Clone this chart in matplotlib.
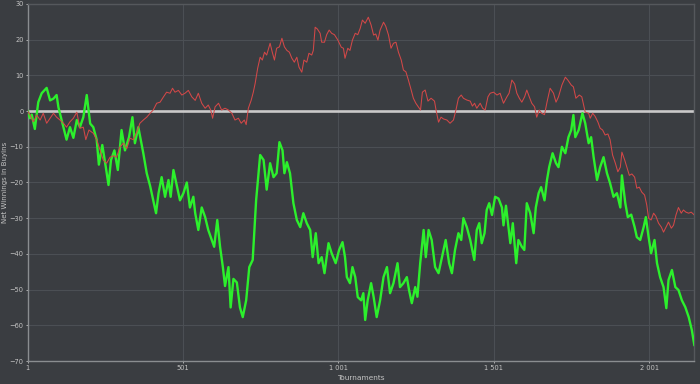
import matplotlib
matplotlib.use("Agg")
import matplotlib.pyplot as plt

# ---------------- data ----------------
green_t = [1, 8, 14, 24, 35, 46, 62, 73, 84, 94, 100, 110, 126, 137, 148, 159, 169, 180, 191, 202,
           212, 223, 230, 241, 252, 261, 269, 280, 291, 303, 314, 327, 338, 346, 357,
           373, 384, 395, 405, 414, 422, 432, 443, 454, 461, 470, 481, 491, 502, 513, 523, 534, 540,
           550, 561, 572, 582, 593, 601, 611, 620, 629, 636, 647, 654, 663, 674, 684, 693, 704, 714,
           725, 736, 749, 760, 770, 781, 792, 802, 811, 821, 827, 835, 845, 856, 867, 878, 888, 899,
           910, 918, 928, 937, 947, 956, 969, 979, 992, 1003, 1014, 1022, 1028, 1038, 1046, 1055,
           1063, 1074, 1081, 1087, 1095, 1106, 1114, 1124, 1135, 1146, 1157, 1167, 1178, 1191, 1199,
           1210, 1221, 1228, 1237, 1248, 1255, 1264, 1275, 1282, 1291, 1301, 1312, 1323, 1334, 1346,
           1357, 1366, 1376, 1387, 1396, 1403, 1414, 1425, 1438, 1446, 1454, 1462, 1471, 1478, 1486,
           1495, 1505, 1516, 1527, 1532, 1540, 1548, 1554, 1562, 1573, 1580, 1591, 1599, 1607, 1618,
           1629, 1636, 1645, 1653, 1664, 1672, 1679, 1690, 1701, 1709, 1720, 1731, 1741, 1750, 1757,
           1763, 1774, 1786, 1795, 1806, 1814, 1822, 1833, 1843, 1854, 1865, 1875, 1886, 1897, 1908,
           1913, 1924, 1932, 1943, 1954, 1961, 1972, 1983, 1990, 1999, 2007, 2018, 2026, 2036, 2047,
           2056, 2063, 2074, 2085, 2095, 2106, 2117, 2128, 2138, 2146]
green_v = [0, -2, -1, -5, 2.5, 5, 6.5, 3, 3.5, 4.5, 1, -2.5, -8, -4.5, -7.5, -2.5, -4.5, -1.7, 4.5, -3.5,
           -4.5, -8, -15, -9.5, -15.5, -20.7, -13.7, -11, -16.5, -5.3, -11, -7.3, -1.7, -9, -4.5,
           -11.8, -17.4, -21, -25, -28.6, -23, -18.5, -24, -19.3, -24, -16.5, -21, -25, -23, -20, -27, -24, -28.6,
           -33.3, -27, -29.7, -33.3, -36, -38, -30.5, -38, -43.7, -49, -43.7, -55, -47, -48, -55, -57.7, -53, -43.7,
           -41.7, -25, -12.3, -13.7, -22, -14.6, -18.5, -17.4, -8.7, -11, -17.4, -14.3, -17.4, -25.8, -30.5, -32.5, -28.6, -31.4,
           -33.3, -40.9, -34.2, -42.6, -40.9, -45.4, -37, -39.8, -42.6, -38.9, -36.7, -40.9, -46.5, -48.2, -43.7, -46.5,
           -52.1, -53, -51, -58.5, -53, -48.2, -52, -57.7, -53, -46.5, -43.7, -51, -48.2, -42.6, -49.3,
           -48.2, -46.5, -50.1, -53.8, -49.3, -52, -42.6, -33.3, -40.9, -33.3, -36.1, -43.7, -45.4, -40.9, -36.1,
           -42.6, -45.4, -38.9, -34.2, -36.1, -30, -32.5, -36.1, -41.7, -33.3, -31.4, -37, -34.2, -27.7, -25.8,
           -29.1, -24, -24.5, -27, -32, -26.5, -32.5, -37, -31.4, -42.6, -36.1, -38, -38.9, -25.8, -28.6,
           -34.2, -27, -23, -21.3, -25, -19.3, -15.7, -11.8, -14.6, -15.7, -10, -11.8, -7.3, -5.3, -1.1,
           -7.3, -5.3, -0.6, -3.4, -9, -7.3, -12.9, -19.3, -15.7, -12.9, -17.4, -20.2, -24, -23, -27,
           -18, -25.8, -29.7, -29, -32.5, -35.3, -36.1, -32.5, -29.7, -35.3, -39.8, -36.1, -42.6, -46.5, -49.3,
           -55.2, -47.3, -44.5, -49.3, -50.1, -53, -54.9, -57.7, -61.3, -65.5]

red_t = [1, 8, 19, 30, 41, 51, 62, 73, 84, 94, 105, 116, 126, 137, 148, 159, 169, 180, 188, 198,
         212, 223, 234, 244, 255, 266, 277, 287, 298, 309, 320, 330, 341, 352, 362,
         373, 384, 395, 405, 416, 427, 438, 448, 459, 467, 475, 486, 497, 507, 518, 529, 540, 550,
         561, 572, 582, 590, 596, 604, 615, 625, 636, 647, 658, 668, 679, 688, 698, 704,
         711, 720, 727, 733, 741, 749, 756, 763, 770, 781, 788, 795, 802, 811, 819, 827, 835, 843,
         851, 859, 867, 874, 883, 890, 899, 906, 915, 920, 926, 933, 942, 947, 956, 963, 971, 979,
         988, 999, 1010, 1017, 1022, 1031, 1038, 1046, 1055, 1063, 1071, 1078, 1087, 1097, 1106,
         1114, 1121, 1128, 1135, 1146, 1153, 1162, 1170, 1178, 1186, 1194, 1203, 1210, 1218, 1226,
         1235, 1242, 1250, 1258, 1265, 1271, 1280, 1289, 1299, 1310, 1315, 1323, 1331, 1339, 1350,
         1360, 1371, 1379, 1387, 1396, 1403, 1414, 1425, 1432, 1439, 1446, 1457, 1465, 1473, 1482,
         1489, 1500, 1511, 1521, 1532, 1543, 1550, 1559, 1568, 1575, 1583, 1591, 1600, 1607, 1615,
         1623, 1632, 1639, 1647, 1655, 1664, 1672, 1682, 1693, 1701, 1709, 1720, 1731, 1739, 1750,
         1757, 1765, 1776, 1784, 1795, 1806, 1811, 1819, 1827, 1836, 1843, 1851, 1859, 1868, 1875,
         1883, 1892, 1900, 1908, 1913, 1922, 1929, 1937, 1945, 1954, 1961, 1969, 1977, 1986, 1993,
         1999, 2007, 2015, 2022, 2031, 2040, 2047, 2055, 2063, 2072, 2079, 2087, 2095, 2104, 2111,
         2119, 2128, 2136, 2146]
red_v = [0, -1, -3, -1.1, -2.5, -0.6, -3.4, -2, -0.6, -1.7, -2.5, -3.4, -4.5, -3, -2, -0.3, -4.8, -4.5, -8, -5.3,
         -6.2, -8, -11, -13.7, -14.6, -12.9, -12.5, -12.9, -10, -9, -10.5, -7.6, -8, -5.9, -3.4,
         -2.5, -1.7, -0.6, 0.3, 2.2, 2.5, 4, 5.3, 5, 6.4, 5.3, 5.8, 4.5, 5, 5.8, 4, 3, 5,
         2.2, 0.8, 1.7, 0.3, -2, 1.2, 2.2, 0.3, 0.8, 0.3, -0.6, -2.5, -2, -3.4, -2.5, -3.8,
         0.8, 3, 5.3, 7.8, 12, 15.1, 14.3, 16.5, 15.7, 19, 16.5, 14.3, 17.6, 18, 20.4, 18, 17, 16.5,
         14.8, 13.7, 15.1, 12.3, 10.9, 14.3, 13.7, 16.2, 15.7, 17, 23.5, 23, 21.8, 19.3, 19.3, 21.4, 22.7, 21.8,
         21.4, 19.9, 17.9, 17.6, 14.8, 17.6, 17, 19.9, 21.8, 21.4, 23.2, 25.5, 24.6, 26.3, 24.1,
         21.3, 21.6, 19.9, 22.7, 24.9, 23.8, 21.3, 17.6, 19, 19.3, 16.5, 14.3, 11.5, 11, 8.7,
         5.9, 3.6, 2.2, 1.2, 0.3, 5.3, 5.9, 2.8, 3.6, 2.8, 0.3, -3.1, -1.7, -2.2, -2.5,
         -3.4, -2.5, 0.3, 3.6, 4.5, 3.6, 3.1, 2.8, 1.4, 2.2, 0.8, 2.2, 0.8, 0.3, 4,
         5, 5.3, 4.5, 5, 2.2, 4, 5, 8.7, 7.6, 5, 3.6, 2.5, 4, 5.9, 4,
         2.2, 1.2, -1.7, 0.3, -0.6, -1, 2.5, 6.4, 5, 2.5, 4, 7.3, 9.5, 8.7, 7.3,
         6.8, 3.6, 4.5, 4, -0.3, -0.6, -2, -0.6, -1.5, -3.1, -4.8, -5.3, -6.7, -6.4, -8,
         -12.3, -14.6, -17, -15.7, -11.5, -13.7, -15.7, -18, -17.6, -18.5, -21.6, -21.3, -22.7, -23.5, -26.3,
         -30, -30.5, -28.6, -29.4, -31.4, -32.5, -33.9, -32.5, -31.1, -32.8, -32, -29.1, -27, -28.6, -27.7,
         -28.3, -28.6, -28.3, -29.1]

x_ticks = [1, 501, 1001, 1501, 2001]
x_tick_labels = ["1", "501", "1 001", "1 501", "2 001"]
y_ticks = [-70, -60, -50, -40, -30, -20, -10, 0, 10, 20, 30]
x_label = "Tournaments"
y_label = "Net Winnings in Buyins"

# ---------------- figure ----------------
BG = "#3a3d41"
fig = plt.figure(figsize=(7.0, 3.84), dpi=100, facecolor=BG)
ax = fig.add_axes([27.7 / 700, 1 - 361 / 384, (694.3 - 27.7) / 700, (361 - 4) / 384])
ax.set_facecolor(BG)

ax.set_xlim(1, 2146)
ax.set_ylim(-70, 30)

ax.grid(True, color="#4b4f54", linewidth=0.8)
ax.set_axisbelow(True)

ax.axhline(0, color="#c9c9c9", linewidth=1.9, zorder=2)
ax.plot(green_t, green_v, color="#2cf02c", linewidth=1.7, zorder=3)
ax.plot(red_t, red_v, color="#d34848", linewidth=0.75, zorder=4)

ax.set_xticks(x_ticks)
ax.set_xticklabels(x_tick_labels)
ax.set_yticks(y_ticks)
ax.tick_params(axis="both", colors="#c4c4c4", labelsize=4.8, length=1.5, width=0.6, pad=1.5)

for side in ("left", "bottom"):
    ax.spines[side].set_color("#8a8d90")
    ax.spines[side].set_linewidth(1.0)
for side in ("top", "right"):
    ax.spines[side].set_color("#55585c")
    ax.spines[side].set_linewidth(1.0)

ax.set_xlabel(x_label, color="#c4c4c4", fontsize=5.3)
ax.set_ylabel(y_label, color="#c4c4c4", fontsize=5.0)
# place axis titles where the reference has them (centre of text)
ax.xaxis.set_label_coords(0.5, -(378 - 361) / 357, transform=ax.transAxes)
ax.xaxis.label.set_va("center")
ax.yaxis.set_label_coords(-(27.7 - 4.5) / 666.6, 0.5, transform=ax.transAxes)
ax.yaxis.label.set_va("center")

fig.savefig("out.png", dpi=100, facecolor=BG)
